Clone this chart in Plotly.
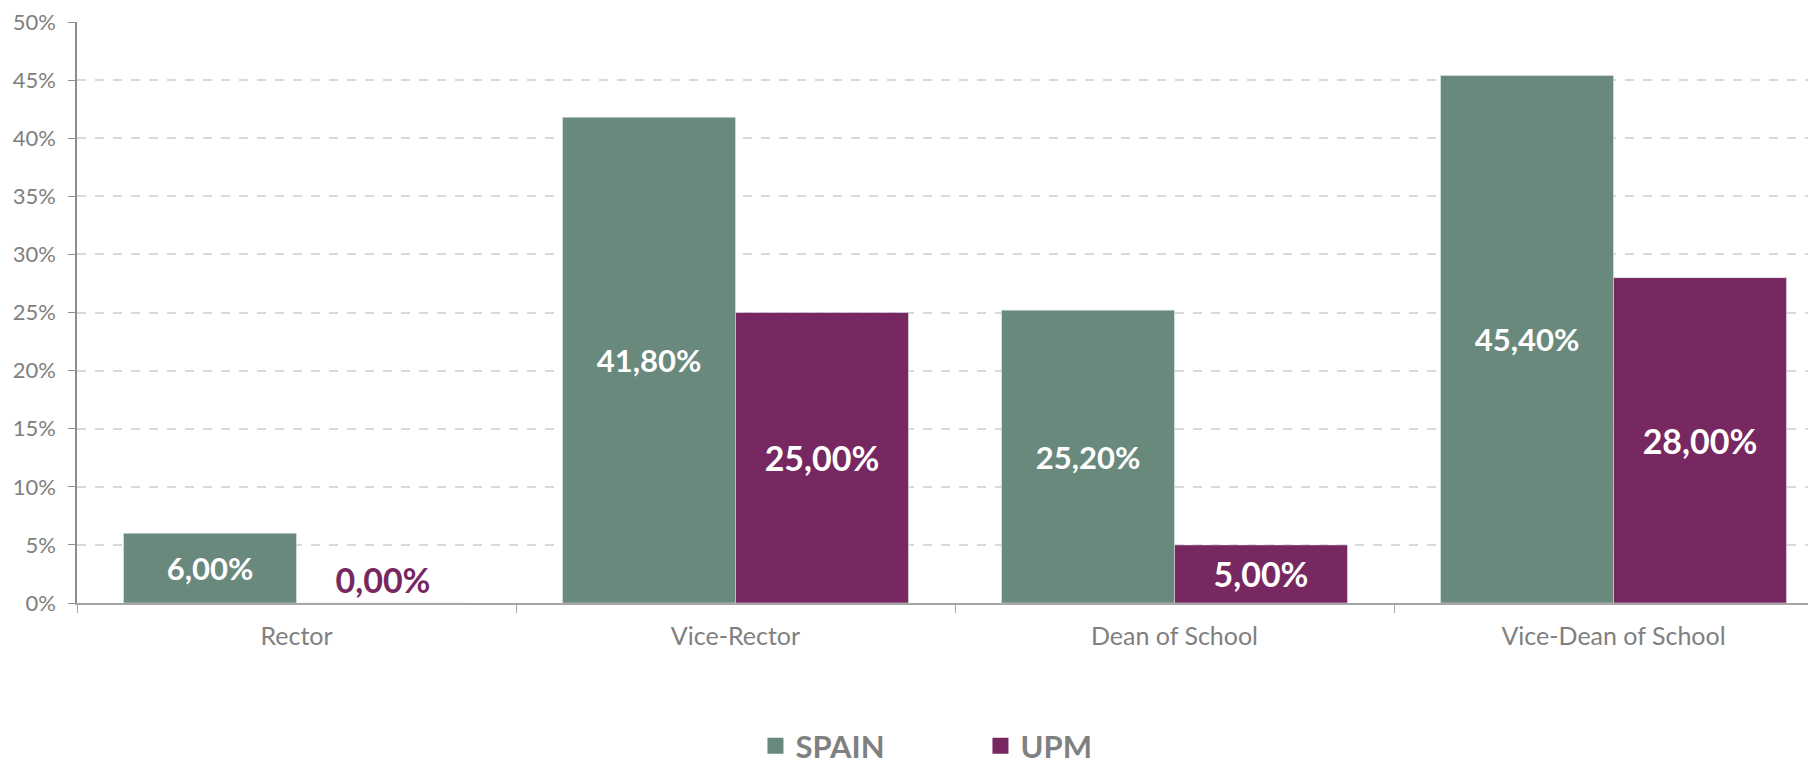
import plotly.graph_objects as go

categories = ["Rector", "Vice-Rector", "Dean of School", "Vice-Dean of School"]
spain = [6.00, 41.80, 25.20, 45.40]
upm = [0.00, 25.00, 5.00, 28.00]
tick_vals = [0, 5, 10, 15, 20, 25, 30, 35, 40, 45, 50]
tick_text = [f"{v}%" for v in tick_vals]

SPAIN_C = "#6a897d"
UPM_C = "#772861"
GRAY = "#808080"
FONT = "Lato, 'Open Sans', sans-serif"

def fmt(v):
    return f"{v:.2f}".replace(".", ",") + "%"

fig = go.Figure()
fig.add_trace(go.Bar(
    x=categories, y=spain, name="SPAIN", marker_color=SPAIN_C, showlegend=False,
    text=[fmt(v) for v in spain], textposition="inside",
    insidetextanchor="middle", constraintext="none",
    textfont=dict(family=FONT, size=31, color="white", weight="bold"),
))
fig.add_trace(go.Bar(
    x=categories, y=upm, name="UPM", marker_color=UPM_C, showlegend=False,
    text=[fmt(v) for v in upm],
    textposition=["outside" if v == 0 else "inside" for v in upm],
    insidetextanchor="middle", constraintext="none", cliponaxis=False,
    insidetextfont=dict(family=FONT, size=34, color="white", weight="bold"),
    outsidetextfont=dict(family=FONT, size=34, color=UPM_C, weight="bold"),
))
# legend entries with larger square swatches
for name, col in [("SPAIN", SPAIN_C), ("UPM", UPM_C)]:
    fig.add_trace(go.Scatter(
        x=[None], y=[None], mode="markers", name=name,
        marker=dict(symbol="square", size=17, color=col),
    ))

fig.update_layout(
    width=1825, height=758,
    barmode="group", bargap=0.212, bargroupgap=0,
    plot_bgcolor="white", paper_bgcolor="white",
    margin=dict(l=69, r=0, t=14, b=163, autoexpand=False),
    font=dict(family=FONT, color=GRAY),
    legend=dict(orientation="h", x=0.5145, xanchor="center", y=-0.2, yanchor="top",
                font=dict(size=31, color=GRAY, family=FONT, weight="bold"),
                entrywidth=180, itemsizing="trace", itemwidth=30),
    xaxis=dict(showline=True, linecolor="#a6a6a6", linewidth=1.5, automargin=False,
               ticks="outside", tickson="boundaries", ticklen=8, tickcolor="#a6a6a6",
               ticklabelstandoff=10,
               tickfont=dict(size=25, color=GRAY, family=FONT),
               showgrid=False),
    yaxis=dict(range=[0, 50], tickvals=tick_vals, ticktext=tick_text, automargin=False,
               showline=True, linecolor="#8c8c8c", linewidth=1.5,
               ticks="outside", ticklen=7, tickcolor="#8c8c8c",
               ticklabelstandoff=8, ticklabeloverflow="allow",
               tickfont=dict(size=22, color=GRAY, family=FONT),
               showgrid=True, gridcolor="#d9d9d9", griddash="dash", gridwidth=1.5,
               zeroline=False),
)

fig.write_html("out.html")
